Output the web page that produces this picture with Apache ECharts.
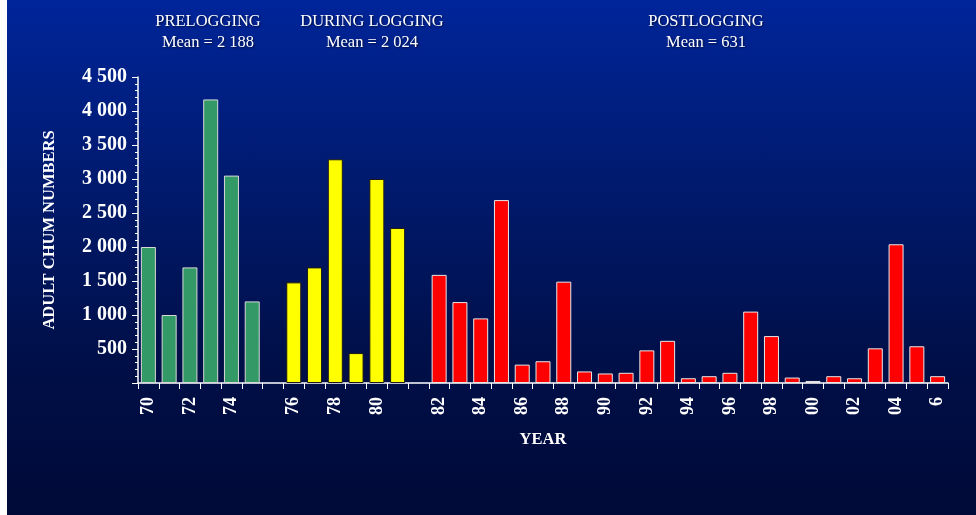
<!DOCTYPE html>
<html>
<head>
<meta charset="utf-8">
<script src="https://cdn.jsdelivr.net/npm/echarts@6/dist/echarts.min.js"></script>
<style>
html,body{margin:0;padding:0;width:976px;height:515px;overflow:hidden;background:#fff;}
#bg{position:absolute;left:7px;top:0;width:969px;height:515px;background:linear-gradient(to bottom,#00259a 0%,#001a6e 35%,#000f48 70%,#000a38 100%);}
#chart{position:absolute;left:0;top:0;width:976px;height:515px;}
</style>
</head>
<body>
<div id="bg"></div>
<div id="chart"></div>
<script>
// Category slots (empty strings are the gaps between periods)
const categories = ['70','71','72','73','74','75','',
  '76','77','78','79','80','81','',
  '82','83','84','85','86','87','88','89','90','91','92','93','94','95','96','97','98','99',
  '00','01','02','03','04','05','6'];
const tickLabels = ['70','72','74','76','78','80','82','84','86','88','90','92','94','96','98','00','02','04','6'];

const preYears = ['70','71','72','73','74','75'];
const preValues = [2000, 1000, 1700, 4170, 3050, 1200];
const duringYears = ['76','77','78','79','80','81'];
const duringValues = [1480, 1700, 3290, 440, 3000, 2280];
const postYears = ['82','83','84','85','86','87','88','89','90','91','92','93','94','95','96','97','98','99','00','01','02','03','04','05','6'];
const postValues = [1590, 1190, 950, 2690, 270, 320, 1490, 170, 140, 150, 480, 620, 70, 100, 150, 1050, 690, 80, 30, 100, 70, 510, 2040, 540, 100];

const yTicks = [500, 1000, 1500, 2000, 2500, 3000, 3500, 4000, 4500];

function toSeries(years, values) {
  const out = categories.map(() => null);
  years.forEach((y, i) => { out[categories.indexOf(y)] = values[i]; });
  return out;
}
function fmt(v) {
  const s = String(v);
  return s.length > 3 ? s.slice(0, s.length - 3) + ' ' + s.slice(-3) : s;
}

const serif = '"Liberation Serif", "Times New Roman", serif';
const chart = echarts.init(document.getElementById('chart'));
const titleStyle = {color:'#ffffff', fontFamily: serif, fontSize: 16.5, fontWeight:'normal', lineHeight: 21,
  textShadowColor:'rgba(0,0,0,0.6)', textShadowBlur:2, textShadowOffsetX:1, textShadowOffsetY:1};
chart.setOption({
  backgroundColor: 'transparent',
  title: [
    {text: 'PRELOGGING\nMean = 2 188', left: 203, top: 6, textAlign: 'center', textStyle: titleStyle},
    {text: 'DURING LOGGING\nMean = 2 024', left: 367, top: 6, textAlign: 'center', textStyle: titleStyle},
    {text: 'POSTLOGGING\nMean = 631', left: 701, top: 6, textAlign: 'center', textStyle: titleStyle}
  ],
  grid: {left: 138, right: 28, top: 77, bottom: 132},
  xAxis: {
    type: 'category',
    data: categories,
    name: 'YEAR',
    nameLocation: 'middle',
    nameGap: 48,
    nameTextStyle: {color:'#fff', fontFamily: serif, fontWeight:'bold', fontSize: 16.5},
    axisLine: {lineStyle: {color:'#ffffff', width: 1.5}},
    axisTick: {show: true, alignWithLabel: false, interval: 0, length: 6, lineStyle: {color:'#ffffff'}},
    axisLabel: {
      interval: 0, rotate: 90, margin: 14,
      color:'#fff', fontFamily: serif, fontWeight:'bold', fontSize: 18,
      formatter: v => tickLabels.indexOf(v) >= 0 ? v : ''
    }
  },
  yAxis: {
    type: 'value',
    min: 0, max: 4500, interval: 500,
    name: 'ADULT CHUM NUMBERS',
    nameLocation: 'middle',
    nameGap: 80,
    nameTextStyle: {color:'#fff', fontFamily: serif, fontWeight:'bold', fontSize: 16.5},
    axisLine: {show: true, lineStyle: {color:'#ffffff', width: 1.5}},
    axisTick: {show: true, length: 6, lineStyle: {color:'#ffffff'}},
    minorTick: {show: true, splitNumber: 5, length: 3, lineStyle: {color:'#ffffff'}},
    splitLine: {show: false},
    axisLabel: {
      color:'#fff', fontFamily: serif, fontWeight:'bold', fontSize: 20, margin: 11,
      formatter: v => yTicks.indexOf(v) >= 0 ? fmt(v) : ''
    }
  },
  series: [
    {type:'bar', data: toSeries(preYears, preValues), barWidth: 15, barGap: '-100%',
     itemStyle: {color:'#339966', borderColor:'#d8d8d8', borderWidth: 1}},
    {type:'bar', data: toSeries(duringYears, duringValues), barWidth: 15, barGap: '-100%',
     itemStyle: {color:'#ffff00', borderColor:'#1a1a1a', borderWidth: 1}},
    {type:'bar', data: toSeries(postYears, postValues), barWidth: 15, barGap: '-100%',
     itemStyle: {color:'#ff0000', borderColor:'#e8e8e8', borderWidth: 1}}
  ],
  animation: false
});
</script>
</body>
</html>
